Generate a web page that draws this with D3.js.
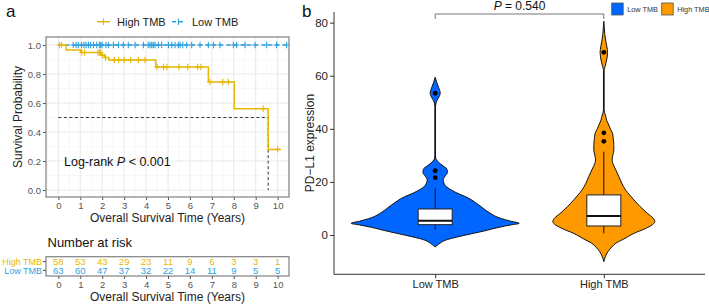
<!DOCTYPE html>
<html>
<head>
<meta charset="utf-8">
<script src="https://cdn.jsdelivr.net/npm/d3@7"></script>
<style>
  body { margin: 0; background: #fff; }
  svg { font-family: "Liberation Sans", Arial, sans-serif; }
</style>
</head>
<body>
<svg id="fig" width="709" height="305"></svg>
<script>
// ---------- panel a: Kaplan-Meier ----------
const years = [0, 1, 2, 3, 4, 5, 6, 7, 8, 9, 10];
const survTicks = [0, 0.2, 0.4, 0.6, 0.8, 1.0];

// step changes of the High TMB curve [time, survival]
const highSteps = [[0, 1], [0.35, 0.966], [1.02, 0.948], [1.95, 0.93], [2.1, 0.914],
  [2.3, 0.897], [4.44, 0.848], [6.84, 0.745], [8.02, 0.56], [9.57, 0.28]];
const highEnd = 10.15;
const highCensor = [0.05, 0.15, 1.07, 1.2, 1.8, 1.88, 1.93, 2.0, 2.15, 2.55, 2.75, 3.0,
  3.3, 3.65, 3.95, 4.5, 4.8, 4.95, 5.5, 5.9, 6.35, 6.5, 6.91, 7.5, 7.75, 9.34, 10.0];

const lowSteps = [[0, 1]];
const lowEnd = 10.45;
const lowCensor = [0.68, 0.81, 0.91, 1.06, 1.17, 1.26, 1.37, 1.47, 1.6, 1.75, 1.87, 1.93,
  1.99, 2.17, 2.28, 2.51, 2.74, 2.96, 3.19, 3.5, 3.88, 4.1, 4.18, 4.26, 4.33, 4.41, 4.56,
  4.71, 5.02, 5.17, 5.32, 5.47, 5.55, 5.67, 5.85, 6.08, 6.46, 6.84, 7.07, 7.37, 7.98,
  8.13, 8.51, 8.97, 9.5, 9.95, 10.41];

const riskHigh = [58, 53, 43, 29, 23, 11, 9, 6, 3, 3, 1];
const riskLow = [63, 60, 47, 37, 32, 22, 14, 11, 9, 5, 5];

// ---------- panel b: violins ----------
const groups = ["Low TMB", "High TMB"];
const exprTicks = [0, 20, 40, 60, 80];
// [expression, relative density (100 = widest)]
const lowViolin = [[-4.5, 0], [-3.5, 4], [-1.9, 12.7], [0, 36.5], [1.5, 58], [2.9, 76],
  [3.8, 90], [4.4, 100], [5.2, 90], [6.5, 76], [8.5, 64], [11.3, 52], [14.4, 36.5],
  [15.8, 26], [17, 19], [18, 14], [19.5, 10.5], [20.7, 9.5], [22, 11.5], [23.5, 14.5],
  [24.8, 14], [26, 9.5], [27.5, 3.6], [29, 0.6], [30.5, 0.4], [48, 0.4], [50, 1.2],
  [51.5, 3.6], [53.4, 6], [55.5, 4.2], [57.5, 1.8], [59.4, 0]];
const highViolin = [[-10, 0], [-8, 2], [-6.3, 4.8], [-4.5, 9.5], [-3.1, 14.3], [-1.5, 23.8],
  [0.6, 35.7], [2.5, 50], [4, 58.3], [5, 60.7], [6.5, 58.3], [8, 52.4], [9.4, 47.6],
  [12, 39.3], [15, 31], [17, 25.8], [19.5, 21.4], [22, 17.9], [24.5, 14.3], [27, 10.7],
  [28.3, 9.9], [30, 10.7], [32, 11.9], [34, 11.9], [36, 11.3], [38.3, 10.4], [40, 7.7],
  [41.4, 6], [43, 3.6], [44.6, 2.4], [46, 1], [47.5, 0.4], [62, 0.4], [63.5, 1.5],
  [65.5, 3], [67, 4], [68.8, 4.4], [71, 3.6], [73, 2.4], [75.5, 1.2], [78, 0.6], [80.5, 0]];
// box stats: lower whisker, q1, median, q3, upper whisker
const lowBox = [1.9, 3.9, 5.4, 9.8, 17.6];
const highBox = [0.6, 3.4, 7.2, 15.1, 31.4];
const lowOutliers = [53.4, 24.2, 21.6];
const highOutliers = [68.8, 38.5, 35.3];

const colHigh = "#E7B800", colLow = "#2E9FDF";
const violinFill = { "Low TMB": "#0066FF", "High TMB": "#FF9900" };

const svg = d3.select("#fig");

// ======== panel a ========
const pa = { left: 46, right: 289, top: 37, bottom: 197 };
const x = d3.scaleLinear().domain([-0.5, 10.5]).range([47.4, 288.6]);
const y = d3.scaleLinear().domain([-0.05, 1.05]).range([197.25, 37.75]);

svg.append("text").attr("x", 6).attr("y", 17).text("a")
  .style("font-size", "17px").style("fill", "#111");

// grid
const grid = svg.append("g");
const minorX = d3.range(-0.5, 10.6, 1), minorY = d3.range(0.1, 1.0, 0.2);
grid.selectAll("line.mx").data(minorX).join("line")
  .attr("x1", d => x(d)).attr("x2", d => x(d)).attr("y1", pa.top).attr("y2", pa.bottom)
  .attr("stroke", "#f3f3f3").attr("stroke-width", 0.6);
grid.selectAll("line.my").data(minorY).join("line")
  .attr("y1", d => y(d)).attr("y2", d => y(d)).attr("x1", pa.left).attr("x2", pa.right)
  .attr("stroke", "#f3f3f3").attr("stroke-width", 0.6);
grid.selectAll("line.gx").data(years).join("line")
  .attr("x1", d => x(d)).attr("x2", d => x(d)).attr("y1", pa.top).attr("y2", pa.bottom)
  .attr("stroke", "#e8e8e8").attr("stroke-width", 1);
grid.selectAll("line.gy").data(survTicks).join("line")
  .attr("y1", d => y(d)).attr("y2", d => y(d)).attr("x1", pa.left).attr("x2", pa.right)
  .attr("stroke", "#e8e8e8").attr("stroke-width", 1);

// axes
function styleAxis(g) {
  g.select(".domain").remove();
  g.selectAll(".tick line").attr("stroke", "#555");
  g.selectAll(".tick text").attr("fill", "#555").style("font-size", "9.5px")
    .style("font-family", "Liberation Sans, Arial, sans-serif");
}
svg.append("g").attr("transform", `translate(${pa.left},0)`)
  .call(d3.axisLeft(y).tickValues(survTicks).tickFormat(d3.format(".1f")).tickSize(3).tickPadding(2))
  .call(styleAxis);
svg.append("g").attr("transform", `translate(0,${pa.bottom})`)
  .call(d3.axisBottom(x).tickValues(years).tickSize(3).tickPadding(2))
  .call(styleAxis);

svg.append("rect").attr("x", pa.left).attr("y", pa.top)
  .attr("width", pa.right - pa.left).attr("height", pa.bottom - pa.top)
  .attr("fill", "none").attr("stroke", "#808080").attr("stroke-width", 1.2);

svg.append("text").attr("transform", `translate(22,${(pa.top + pa.bottom) / 2}) rotate(-90)`)
  .attr("text-anchor", "middle").text("Survival Probability")
  .style("font-size", "12px").style("fill", "#222");
svg.append("text").attr("x", (pa.left + pa.right) / 2).attr("y", 222)
  .attr("text-anchor", "middle").text("Overall Survival Time (Years)")
  .style("font-size", "12px").style("fill", "#222");

// median line
const medianStep = highSteps.find(s => s[1] <= 0.5);
svg.append("path")
  .attr("d", d3.line()([[x(0), y(0.5)], [x(medianStep[0]), y(0.5)], [x(medianStep[0]), y(0)]]))
  .attr("fill", "none").attr("stroke", "#333").attr("stroke-width", 1).attr("stroke-dasharray", "3,2.5");

function survAt(steps, t) {
  let s = steps[0][1];
  steps.forEach(d => { if (d[0] <= t) s = d[1]; });
  return s;
}
const stepLine = d3.line().x(d => x(d[0])).y(d => y(d[1])).curve(d3.curveStepAfter);

function drawCurve(steps, end, censor, col, dash) {
  const pts = steps.concat([[end, steps[steps.length - 1][1]]]);
  svg.append("path").attr("d", stepLine(pts)).attr("fill", "none")
    .attr("stroke", col).attr("stroke-width", 1.5).attr("stroke-dasharray", dash);
  const g = svg.append("g");
  censor.forEach(t => {
    const cx = x(t), cy = y(survAt(steps, t));
    g.append("path").attr("d", `M${cx},${cy - 3.2}V${cy + 3.2}M${cx - 2.8},${cy}H${cx + 2.8}`)
      .attr("stroke", col).attr("stroke-width", 1.1);
  });
}
drawCurve(lowSteps, lowEnd, lowCensor, colLow, "4,3");
drawCurve(highSteps, highEnd, highCensor, colHigh, null);

svg.append("text").attr("x", 64).attr("y", 166).style("font-size", "12.5px").style("fill", "#111")
  .call(t => {
    t.append("tspan").text("Log-rank ");
    t.append("tspan").style("font-style", "italic").text("P");
    t.append("tspan").text(" < 0.001");
  });

// legend
const legA = [{ name: "High TMB", col: colHigh, x0: 97, dash: null },
  { name: "Low TMB", col: colLow, x0: 172, dash: "4,3" }];
legA.forEach(l => {
  svg.append("line").attr("x1", l.x0).attr("x2", l.x0 + 13).attr("y1", 21.7).attr("y2", 21.7)
    .attr("stroke", l.col).attr("stroke-width", 1.5).attr("stroke-dasharray", l.dash);
  svg.append("path").attr("d", `M${l.x0 + 6.5},18.5V25`).attr("stroke", l.col).attr("stroke-width", 1.1);
  svg.append("text").attr("x", l.x0 + 20).attr("y", 25.5).text(l.name)
    .style("font-size", "11px").style("fill", "#222");
});

// risk table
const tb = { top: 256.7, bottom: 276 };
svg.append("text").attr("x", 47.5).attr("y", 246.5).text("Number at risk")
  .style("font-size", "13px").style("fill", "#111");
svg.append("rect").attr("x", pa.left).attr("y", tb.top).attr("width", pa.right - pa.left)
  .attr("height", tb.bottom - tb.top).attr("fill", "none").attr("stroke", "#808080").attr("stroke-width", 1.2);
const rows = [{ name: "High TMB", vals: riskHigh, col: colHigh, yy: 261.6 },
  { name: "Low TMB", vals: riskLow, col: colLow, yy: 270.4 }];
rows.forEach(r => {
  svg.append("text").attr("x", 42).attr("y", r.yy + 3.2).attr("text-anchor", "end").text(r.name)
    .style("font-size", "9px").style("fill", r.col);
  svg.append("line").attr("x1", 43).attr("x2", pa.left).attr("y1", r.yy).attr("y2", r.yy).attr("stroke", "#555");
  svg.selectAll(null).data(r.vals).join("text")
    .attr("x", (d, i) => x(years[i])).attr("y", r.yy + 3.4).attr("text-anchor", "middle")
    .text(d => d).style("font-size", "9.5px").style("fill", r.col);
});
svg.append("g").attr("transform", `translate(0,${tb.bottom})`)
  .call(d3.axisBottom(x).tickValues(years).tickSize(3).tickPadding(2))
  .call(styleAxis);
svg.append("text").attr("x", (pa.left + pa.right) / 2).attr("y", 300.5)
  .attr("text-anchor", "middle").text("Overall Survival Time (Years)")
  .style("font-size", "12px").style("fill", "#222");

// ======== panel b ========
svg.append("text").attr("x", 302).attr("y", 17).text("b")
  .style("font-size", "17px").style("fill", "#111");

const yb = d3.scaleLinear().domain([-14.8, 84]).range([274.3, 12]);
const xb = d3.scalePoint().domain(groups).range([334, 705]).padding(0.6);
const wScale = d3.scaleLinear().domain([0, 100]).range([0, 84]);

const violins = [
  { g: "Low TMB", prof: lowViolin, box: lowBox, out: lowOutliers },
  { g: "High TMB", prof: highViolin, box: highBox, out: highOutliers }
];
violins.forEach(v => {
  const cx = xb(v.g);
  const area = d3.area().y(d => yb(d[0]))
    .x0(d => cx - wScale(d[1])).x1(d => cx + wScale(d[1]))
    .curve(d3.curveMonotoneY);
  svg.append("path").attr("d", area(v.prof)).attr("fill", violinFill[v.g])
    .attr("stroke", "#111").attr("stroke-width", 1);
  const [lo, q1, med, q3, hi] = v.box;
  svg.append("line").attr("x1", cx).attr("x2", cx).attr("y1", yb(q3)).attr("y2", yb(hi))
    .attr("stroke", "#111").attr("stroke-width", 1);
  svg.append("line").attr("x1", cx).attr("x2", cx).attr("y1", yb(q1)).attr("y2", yb(lo))
    .attr("stroke", "#111").attr("stroke-width", 1);
  svg.append("rect").attr("x", cx - 17).attr("width", 34).attr("y", yb(q3))
    .attr("height", yb(q1) - yb(q3)).attr("fill", "#fff").attr("stroke", "#222").attr("stroke-width", 1);
  svg.append("line").attr("x1", cx - 17).attr("x2", cx + 17).attr("y1", yb(med)).attr("y2", yb(med))
    .attr("stroke", "#111").attr("stroke-width", 2);
  svg.selectAll(null).data(v.out).join("circle")
    .attr("cx", cx).attr("cy", d => yb(d)).attr("r", 2.4).attr("fill", "#000");
});

// axes b
const axL = svg.append("g").attr("transform", "translate(334,0)")
  .call(d3.axisLeft(yb).tickValues(exprTicks).tickSize(4).tickPadding(2));
axL.select(".domain").attr("stroke", "#333").attr("d", `M0,${yb.range()[1]}V${yb.range()[0]}`);
axL.selectAll(".tick line").attr("stroke", "#333");
axL.selectAll(".tick text").attr("fill", "#222").style("font-size", "11.5px")
  .style("font-family", "Liberation Sans, Arial, sans-serif");
const axB = svg.append("g").attr("transform", "translate(0,274.3)")
  .call(d3.axisBottom(xb).tickSize(4).tickPadding(2));
axB.select(".domain").attr("stroke", "#333").attr("d", "M334,0H705");
axB.selectAll(".tick line").attr("stroke", "#333");
axB.selectAll(".tick text").attr("fill", "#222").style("font-size", "11px")
  .style("font-family", "Liberation Sans, Arial, sans-serif");

svg.append("text").attr("transform", `translate(314,143) rotate(-90)`)
  .attr("text-anchor", "middle").text("PD\u2212L1 expression")
  .style("font-size", "12px").style("fill", "#222");

// p-value bracket
const xl = xb("Low TMB"), xh = xb("High TMB");
svg.append("path").attr("d", `M${xl},19V14H${xh}V19`).attr("fill", "none")
  .attr("stroke", "#777").attr("stroke-width", 1);
svg.append("text").attr("x", (xl + xh) / 2).attr("y", 9.8).attr("text-anchor", "middle")
  .style("font-size", "12px").style("fill", "#111")
  .call(t => {
    t.append("tspan").style("font-style", "italic").text("P");
    t.append("tspan").text(" = 0.540");
  });

// legend b
const legB = [{ g: "Low TMB", x0: 611.7 }, { g: "High TMB", x0: 661.7 }];
legB.forEach(l => {
  svg.append("rect").attr("x", l.x0).attr("y", 3).attr("width", 11.5).attr("height", 12)
    .attr("fill", violinFill[l.g]).attr("stroke", "#555").attr("stroke-width", 0.8);
  svg.append("text").attr("x", l.x0 + 15.5).attr("y", 11.6).text(l.g)
    .style("font-size", "7.3px").style("fill", "#333");
});
</script>
</body>
</html>
